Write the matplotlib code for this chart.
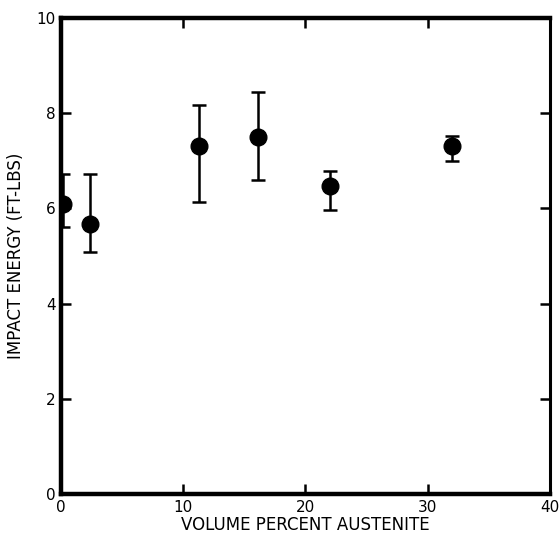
import matplotlib
matplotlib.use("Agg")
import matplotlib.pyplot as plt
import numpy as np

austenite = [0.2, 2.4, 11.3, 16.1, 22.0, 32.0]
energy = [6.1, 5.68, 7.3, 7.5, 6.47, 7.3]
err_low = [5.6, 5.08, 6.13, 6.6, 5.96, 7.0]
err_high = [6.72, 6.72, 8.18, 8.45, 6.78, 7.52]

energy = np.array(energy)
yerr = [energy - np.array(err_low), np.array(err_high) - energy]

fig = plt.figure(figsize=(5.59, 5.40), dpi=100)
ax = fig.add_axes([0.109, 0.085, 0.875, 0.882])

ax.errorbar(austenite, energy, yerr=yerr, fmt='o', color='black',
            markersize=12, elinewidth=1.8, capsize=5, capthick=1.8)

ax.set_xlim(0, 40)
ax.set_ylim(0, 10)
ax.set_xticks([0, 10, 20, 30, 40])
ax.set_yticks([0, 2, 4, 6, 8, 10])
ax.tick_params(direction='in', length=7, width=1.8, labelsize=11,
               top=True, right=True, pad=4)
for side in ['left', 'bottom', 'top']:
    ax.spines[side].set_linewidth(3.2)
ax.spines['right'].set_linewidth(2.2)

ax.set_xlabel('VOLUME PERCENT AUSTENITE', fontsize=12, labelpad=1)
ax.set_ylabel('IMPACT ENERGY (FT-LBS)', fontsize=12, labelpad=8)

fig.savefig('out.png', dpi=100)
